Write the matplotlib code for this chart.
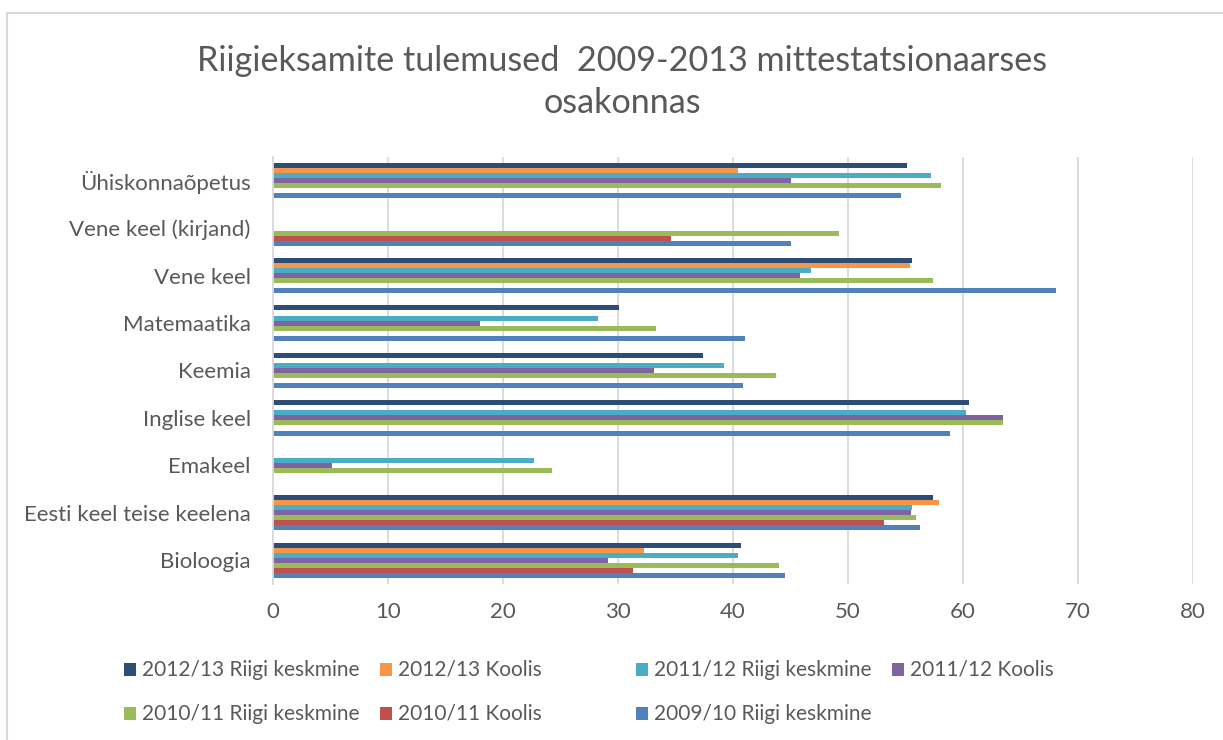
import numpy as np
import matplotlib
matplotlib.use("Agg")
import matplotlib.pyplot as plt
from matplotlib.patches import Rectangle
from matplotlib.lines import Line2D

# Categories, bottom to top as drawn
categories = [
    "Bioloogia",
    "Eesti keel teise keelena",
    "Emakeel",
    "Inglise keel",
    "Keemia",
    "Matemaatika",
    "Vene keel",
    "Vene keel (kirjand)",
    "Ühiskonnaõpetus",
]

nan = np.nan
s1213_riik = [40.7, 57.4, nan, 60.5, 37.4, 30.1, 55.6, nan, 55.1]
s1213_kool = [32.3, 57.9, nan, nan, nan, nan, 55.4, nan, 40.4]
s1112_riik = [40.4, 55.6, 22.7, 60.3, 39.2, 28.3, 46.8, nan, 57.2]
s1112_kool = [29.1, 55.5, 5.1, 63.5, 33.1, 18.0, 45.8, nan, 45.0]
s1011_riik = [44.0, 55.9, 24.3, 63.5, 43.7, 33.3, 57.4, 49.2, 58.1]
s1011_kool = [31.3, 53.1, nan, nan, nan, nan, nan, 34.6, nan]
s0910_riik = [44.5, 56.3, nan, 58.9, 40.9, 41.0, 68.1, 45.0, 54.6]

series_names = [
    "2012/13 Riigi keskmine",
    "2012/13 Koolis",
    "2011/12 Riigi keskmine",
    "2011/12 Koolis",
    "2010/11 Riigi keskmine",
    "2010/11 Koolis",
    "2009/10 Riigi keskmine",
]
series_values = [s1213_riik, s1213_kool, s1112_riik, s1112_kool,
                 s1011_riik, s1011_kool, s0910_riik]
colors = ["#2C4D75", "#F79646", "#4BACC6", "#8064A2",
          "#9BBB59", "#C0504D", "#4F81BD"]

TEXT = "#595959"
GRID = "#D9D9D9"
FONT = "Lato"

W, H = 1223, 740
fig = plt.figure(figsize=(W / 100, H / 100), dpi=100)


def fx(px):
    return px / W


def fy(py):
    return 1 - py / H


ax = fig.add_axes([fx(273), fy(584), fx(1193) - fx(273), fy(157) - fy(584)])

y = np.arange(len(categories))
h = 0.106
for i, (name, vals, c) in enumerate(zip(series_names, series_values, colors)):
    ax.barh(y + (3 - i) * h, vals, height=h, color=c, linewidth=0)

ax.set_xlim(0, 80)
ax.set_ylim(-0.5, len(categories) - 0.5)
ax.set_xticks(np.arange(0, 81, 10))
ax.set_yticks(y)
ax.set_yticklabels(categories)
ax.xaxis.grid(True, color=GRID, linewidth=1.3)
ax.set_axisbelow(True)
for s in ["top", "right", "bottom"]:
    ax.spines[s].set_visible(False)
ax.spines["left"].set_color(GRID)
ax.spines["left"].set_linewidth(1.3)
ax.tick_params(length=0, colors=TEXT, labelsize=16)
ax.tick_params(axis="y", pad=16)
ax.tick_params(axis="x", pad=13)
for lab in ax.get_xticklabels() + ax.get_yticklabels():
    lab.set_fontfamily(FONT)

fig.text(fx(622), fy(82), "Riigieksamite tulemused  2009-2013 mittestatsionaarses\nosakonnas",
         ha="center", va="center", fontsize=24.6, color=TEXT, family=FONT,
         linespacing=1.4)

# legend, laid out in a grid like the original
for i, (name, c) in enumerate(zip(series_names, colors)):
    row, col = divmod(i, 4)
    x0 = 124 + col * 256
    yc = 670 + row * 44
    fig.add_artist(Rectangle((fx(x0), fy(yc + 6)), fx(12), 13 / H,
                             transform=fig.transFigure, color=c, linewidth=0))
    fig.text(fx(x0 + 18), fy(yc), name, ha="left", va="center",
             fontsize=15, color=TEXT, family=FONT)

# chart border (top and left visible)
fig.add_artist(Line2D([fx(7), 1], [fy(13), fy(13)], transform=fig.transFigure,
                      color=GRID, linewidth=1.5))
fig.add_artist(Line2D([fx(7), fx(7)], [fy(13), 0], transform=fig.transFigure,
                      color=GRID, linewidth=1.5))

fig.savefig("out.png", dpi=100)
